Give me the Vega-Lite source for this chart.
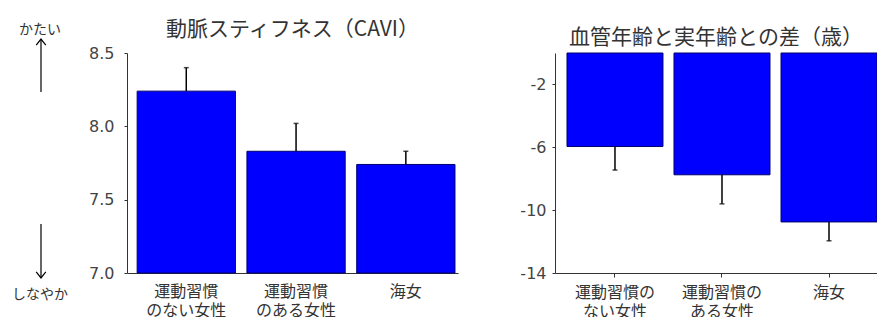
{
  "$schema": "https://vega.github.io/schema/vega-lite/v6.json",
  "padding": {"left": 0, "top": 19, "right": 0, "bottom": 0},
  "background": "white",
  "config": {
    "view": {"stroke": null},
    "font": "Noto Sans CJK JP",
    "axis": {"domainColor": "#333", "tickColor": "#333", "labelColor": "#444", "grid": false, "domainWidth": 1, "tickWidth": 1, "labelOverlap": false},
    "title": {"font": "Noto Sans CJK JP", "fontSize": 21, "fontWeight": "normal", "color": "#333", "baseline": "bottom", "offset": 5, "anchor": "middle"}
  },
  "datasets": {
    "cavi": [
      {"group": "運動習慣のない女性", "value": 8.24, "upper": 8.40},
      {"group": "運動習慣のある女性", "value": 7.83, "upper": 8.02},
      {"group": "海女", "value": 7.74, "upper": 7.83}
    ],
    "age": [
      {"group": "運動習慣のない女性", "value": -5.95, "lower": -7.45},
      {"group": "運動習慣のある女性", "value": -7.75, "lower": -9.6},
      {"group": "海女", "value": -10.75, "lower": -11.95}
    ],
    "notes": [
      {"label": "かたい", "y": 8.66},
      {"label": "しなやか", "y": 6.853}
    ],
    "arrows": [
      {"from": 8.234, "tip": 8.595, "head": "up"},
      {"from": 7.334, "tip": 6.966, "head": "down"}
    ]
  },
  "bounds": "flush",
  "spacing": 97,
  "hconcat": [
    {
      "width": 30,
      "height": 220,
      "layer": [
        {
          "data": {"name": "notes"},
          "mark": {"type": "text", "fontSize": 14, "color": "#333", "baseline": "middle", "align": "center", "font": "Noto Sans CJK JP"},
          "encoding": {
            "x": {"datum": 4, "type": "quantitative", "scale": {"domain": [0, 3]}, "axis": null},
            "y": {"field": "y", "type": "quantitative", "scale": {"domain": [7, 8.5], "zero": false, "nice": false}, "axis": null},
            "text": {"field": "label"}
          }
        },
        {
          "data": {"name": "arrows"},
          "mark": {"type": "rule", "color": "black", "strokeWidth": 1.2},
          "encoding": {
            "x": {"datum": 4.1, "type": "quantitative", "axis": null},
            "y": {"field": "from", "type": "quantitative", "axis": null},
            "y2": {"field": "tip"}
          }
        },
        {
          "data": {"name": "arrows"},
          "mark": {"type": "point", "filled": false, "stroke": "black", "strokeWidth": 1.2, "size": 144, "opacity": 1},
          "encoding": {
            "x": {"datum": 4.1, "type": "quantitative", "axis": null},
            "y": {"field": "tip", "type": "quantitative", "axis": null},
            "shape": {"field": "head", "type": "nominal", "legend": null, "scale": {"domain": ["up", "down"], "range": ["M-0.8,1L0,0L0.8,1", "M-0.8,-1L0,0L0.8,-1"]}}
          }
        }
      ]
    },
    {
      "width": 331,
      "height": 220,
      "title": "動脈スティフネス（CAVI）",
      "data": {"name": "cavi"},
      "encoding": {
        "x": {
          "field": "group", "type": "nominal", "sort": null, "title": null,
          "scale": {"paddingInner": 0.105, "paddingOuter": 0.06, "align": 0.77},
          "axis": {"labelAngle": 0, "tickSize": 0, "labelPadding": 10, "labelFont": "Noto Sans CJK JP", "labelFontSize": 16, "labelLineHeight": 19, "labelColor": "#333", "labelExpr": "length(datum.label) > 2 ? [slice(datum.label, 0, 4), slice(datum.label, 4)] : datum.label"}
        }
      },
      "layer": [
        {
          "mark": {"type": "bar", "fill": "#0000ff", "stroke": "#00006e", "strokeWidth": 1},
          "encoding": {
            "y": {
              "field": "value", "type": "quantitative", "title": null,
              "scale": {"domain": [7, 8.5], "zero": false, "nice": false},
              "axis": {
                "values": [7, 7.25, 7.5, 7.75, 8, 8.25, 8.5],
                "labelOverlap": false, "labelBound": false, "labelFlush": false,
                "labelExpr": "datum.value % 0.5 == 0 ? format(datum.value, '.1f') : ''",
                "tickSize": 3,
                "labelFont": "DejaVu Sans", "labelFontSize": 16, "labelPadding": 10
              }
            },
            "y2": {"datum": 7}
          }
        },
        {
          "mark": {"type": "rule", "color": "black", "strokeWidth": 1.5},
          "encoding": {
            "y": {"field": "value", "type": "quantitative", "title": null},
            "y2": {"field": "upper"}
          }
        },
        {
          "mark": {"type": "tick", "size": 5, "thickness": 1.5, "color": "black", "orient": "horizontal"},
          "encoding": {
            "y": {"field": "upper", "type": "quantitative", "title": null}
          }
        }
      ]
    },
    {
      "width": 322,
      "height": 220,
      "title": "血管年齢と実年齢との差（歳）",
      "data": {"name": "age"},
      "encoding": {
        "x": {
          "field": "group", "type": "nominal", "sort": null, "title": null,
          "scale": {"paddingInner": 0.103, "paddingOuter": 0.056, "align": 1},
          "axis": {"labelAngle": 0, "tickSize": 4, "labelPadding": 7, "labelFont": "Noto Sans CJK JP", "labelFontSize": 16, "labelLineHeight": 19, "labelColor": "#333", "labelExpr": "length(datum.label) > 2 ? [slice(datum.label, 0, 5), slice(datum.label, 5)] : datum.label"}
        }
      },
      "layer": [
        {
          "mark": {"type": "bar", "fill": "#0000ff", "stroke": "#00006e", "strokeWidth": 1},
          "encoding": {
            "y": {
              "field": "value", "type": "quantitative", "title": null,
              "scale": {"domain": [-14, 0], "zero": false, "nice": false},
              "axis": {
                "values": [-14, -12, -10, -8, -6, -4, -2, 0],
                "labelOverlap": false, "labelBound": false, "labelFlush": false,
                "labelExpr": "toString(datum.value)",
                "tickSize": 3,
                "labelFont": "DejaVu Sans", "labelFontSize": 16, "labelPadding": 6
              }
            },
            "y2": {"datum": 0}
          }
        },
        {
          "mark": {"type": "rule", "color": "black", "strokeWidth": 1.5},
          "encoding": {
            "y": {"field": "value", "type": "quantitative", "title": null},
            "y2": {"field": "lower"}
          }
        },
        {
          "mark": {"type": "tick", "size": 5, "thickness": 1.5, "color": "black", "orient": "horizontal"},
          "encoding": {
            "y": {"field": "lower", "type": "quantitative", "title": null}
          }
        }
      ]
    }
  ]
}
